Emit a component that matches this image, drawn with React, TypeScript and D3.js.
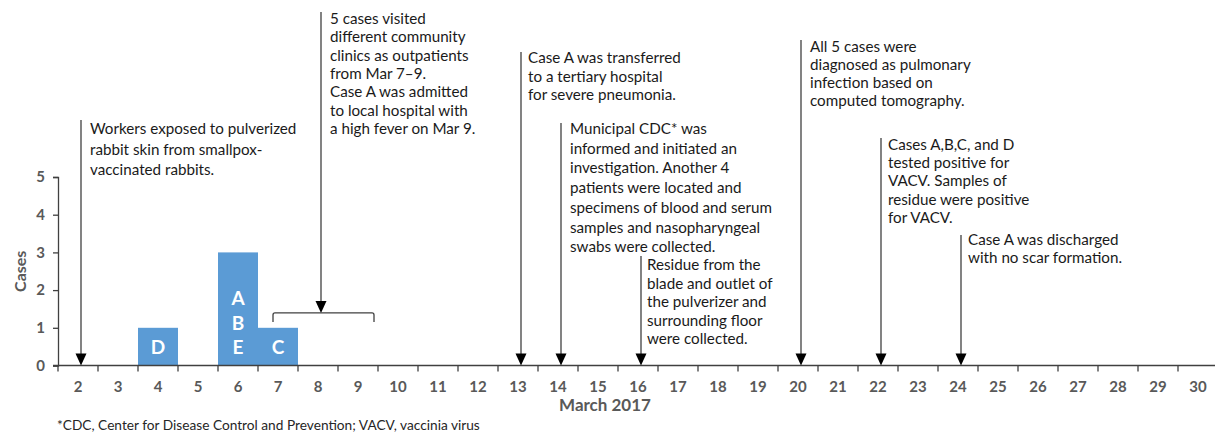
import { useEffect, useRef } from 'react';
import * as d3 from 'd3';

// Days of March 2017 on the x axis
const days = [2, 3, 4, 5, 6, 7, 8, 9, 10, 11, 12, 13, 14, 15, 16, 17, 18, 19, 20, 21, 22, 23, 24, 25, 26, 27, 28, 29, 30];
const yTicks = [0, 1, 2, 3, 4, 5];

// Onset bars
const barDays = [4, 6, 7];
const barCounts = [1, 3, 1];
const barCaseIds = [['D'], ['E', 'B', 'A'], ['C']];

// Timeline events
const eventDays = [2, 8, 13, 14, 16, 20, 22, 24];
const eventTexts = [
  ['Workers exposed to pulverized', 'rabbit skin from smallpox-', 'vaccinated rabbits.'],
  ['5 cases visited', 'different community', 'clinics as outpatients', 'from Mar 7–9.', 'Case A was admitted', 'to local hospital with', 'a high fever on Mar 9.'],
  ['Case A was transferred', 'to a tertiary hospital', 'for severe pneumonia.'],
  ['Municipal CDC* was', 'informed and initiated an', 'investigation. Another 4', 'patients were located and', 'specimens of blood and serum', 'samples and nasopharyngeal', 'swabs were collected.'],
  ['Residue from the', 'blade and outlet of', 'the pulverizer and', 'surrounding floor', 'were collected.'],
  ['All 5 cases were', 'diagnosed as pulmonary', 'infection based on', 'computed tomography.'],
  ['Cases A,B,C, and D', 'tested positive for', 'VACV. Samples of', 'residue were positive', 'for VACV.'],
  ['Case A was discharged', 'with no scar formation.'],
];
// the Mar 8 event points at a bracket spanning these days
const bracketDays = [7, 9];

// layout of each event label: line top, first baseline, line height, text gap
const eventLayout = [
  { top: 120, base: 134, lh: 20.5, gap: 9 },
  { top: 12, base: 24, lh: 18.3, gap: 9 },
  { top: 52, base: 63, lh: 18.6, gap: 7 },
  { top: 123, base: 134, lh: 19.7, gap: 9 },
  { top: 256, base: 270, lh: 18.5, gap: 6 },
  { top: 40, base: 52, lh: 18, gap: 9 },
  { top: 138, base: 150, lh: 18.2, gap: 7 },
  { top: 235, base: 245, lh: 17.5, gap: 7 },
];

const W = 1215;
const H = 435;
const font = 'Lato, "Open Sans", sans-serif';

function drawChart(el: SVGSVGElement) {
  const svg = d3.select(el);
  svg.selectAll('*').remove();

  const x = d3.scaleBand<number>().domain(days).range([58, 58 + days.length * 40]);
  const y = d3.scaleLinear().domain([0, 5]).range([365.5, 177]);
  const cx = (d: number) => (x(d) as number) + x.bandwidth() / 2;

  // bars
  const bars = barDays.map((d, i) => ({ day: d, count: barCounts[i], ids: barCaseIds[i] }));
  svg.append('g')
    .selectAll('rect')
    .data(bars)
    .join('rect')
    .attr('x', d => x(d.day) as number)
    .attr('width', x.bandwidth())
    .attr('y', d => y(d.count))
    .attr('height', d => y(0) - y(d.count))
    .attr('fill', '#5B9BD5');

  // case letters
  const letters = bars.flatMap(b => b.ids.map((id, k) => ({ day: b.day, id, k })));
  svg.append('g')
    .selectAll('text')
    .data(letters)
    .join('text')
    .attr('x', d => cx(d.day))
    .attr('y', d => y(0.5) + 7.5 - d.k * 24.5)
    .attr('text-anchor', 'middle')
    .attr('font-family', font)
    .attr('font-weight', 'bold')
    .attr('font-size', 19)
    .attr('fill', '#fff')
    .text(d => d.id);

  // y axis
  const yAxis = svg.append('g')
    .attr('transform', 'translate(58,0)')
    .call(d3.axisLeft(y).tickValues(yTicks).tickSize(5).tickPadding(8).tickFormat(d3.format('d')));
  yAxis.select('.domain').attr('stroke', '#404040').attr('stroke-width', 1.3);
  yAxis.selectAll('.tick line').attr('stroke', '#404040').attr('stroke-width', 1.3);
  yAxis.selectAll('.tick text')
    .attr('font-family', font).attr('font-weight', 'bold').attr('font-size', 15).attr('fill', '#595959');

  // x axis
  const xAxis = svg.append('g').attr('transform', `translate(0,${y(0)})`);
  xAxis.append('line')
    .attr('x1', 53).attr('x2', W)
    .attr('stroke', '#404040').attr('stroke-width', 1.3);
  xAxis.selectAll('line.tk')
    .data(days)
    .join('line')
    .attr('class', 'tk')
    .attr('x1', d => x(d) as number).attr('x2', d => x(d) as number)
    .attr('y1', 0).attr('y2', 6)
    .attr('stroke', '#404040').attr('stroke-width', 1.3);
  xAxis.selectAll('text')
    .data(days)
    .join('text')
    .attr('x', d => cx(d))
    .attr('y', 26)
    .attr('text-anchor', 'middle')
    .attr('font-family', font).attr('font-weight', 'bold').attr('font-size', 15).attr('fill', '#595959')
    .text(d => d);

  svg.append('text')
    .attr('x', 605).attr('y', 411)
    .attr('text-anchor', 'middle')
    .attr('font-family', font).attr('font-weight', 'bold').attr('font-size', 17).attr('fill', '#595959')
    .text('March 2017');

  svg.append('text')
    .attr('transform', `translate(26,${y(2.5)}) rotate(-90)`)
    .attr('text-anchor', 'middle')
    .attr('font-family', font).attr('font-weight', 'bold').attr('font-size', 16).attr('fill', '#595959')
    .text('Cases');

  svg.append('text')
    .attr('x', 57).attr('y', 430)
    .attr('font-family', font).attr('font-size', 13.7).attr('fill', '#262626')
    .text('*CDC, Center for Disease Control and Prevention; VACV, vaccinia virus');

  // events
  const events = eventDays.map((d, i) => ({ day: d, lines: eventTexts[i], ...eventLayout[i] }));
  const bracketY = y(1.5) + 4;
  const g = svg.append('g');
  events.forEach(ev => {
    const lx = cx(ev.day) + 3;
    const tipY = ev.day === 8 ? bracketY : y(0);
    g.append('line')
      .attr('x1', lx).attr('x2', lx)
      .attr('y1', ev.top).attr('y2', tipY - 10)
      .attr('stroke', '#404040').attr('stroke-width', 1.3);
    g.append('path')
      .attr('d', `M${lx - 5.5},${tipY - 12}L${lx + 5.5},${tipY - 12}L${lx},${tipY}Z`)
      .attr('fill', '#000');
    const t = g.append('text')
      .attr('font-family', font).attr('font-size', 15.2).attr('fill', '#1a1a1a');
    ev.lines.forEach((ln, k) => {
      t.append('tspan').attr('x', lx + ev.gap).attr('y', ev.base + k * ev.lh).text(ln);
    });
  });

  // bracket for Mar 7–9
  const bx1 = cx(bracketDays[0]) - 5;
  const bx2 = cx(bracketDays[1]) + 16;
  g.append('path')
    .attr('d', `M${bx1},${bracketY + 9}V${bracketY + 2}Q${bx1},${bracketY} ${bx1 + 2},${bracketY}H${bx2 - 2}Q${bx2},${bracketY} ${bx2},${bracketY + 2}V${bracketY + 9}`)
    .attr('fill', 'none')
    .attr('stroke', '#404040').attr('stroke-width', 1.3);
}

export default function App() {
  const ref = useRef<SVGSVGElement>(null);
  useEffect(() => {
    if (ref.current) drawChart(ref.current);
  }, []);
  return (
    <svg ref={ref} width={W} height={H}
      style={{ position: 'absolute', left: 0, top: 0, background: '#fff' }} />
  );
}
